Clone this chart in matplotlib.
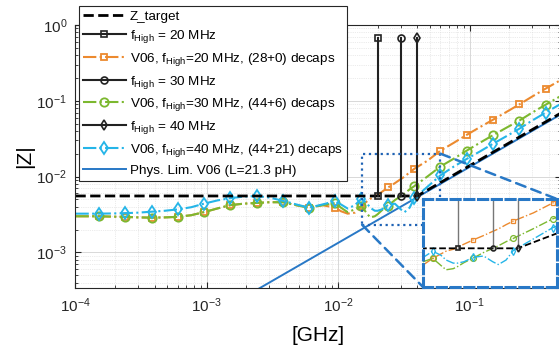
import matplotlib.pyplot as plt
import numpy as np
from matplotlib.patches import ConnectionPatch

plt.rcParams['font.family'] = ['Liberation Sans', 'DejaVu Sans']
plt.rcParams['mathtext.fontset'] = 'custom'
plt.rcParams['mathtext.rm'] = 'Liberation Sans'
plt.rcParams['mathtext.it'] = 'Liberation Sans:italic'
plt.rcParams['mathtext.bf'] = 'Liberation Sans:bold'

# frequency grid of the impedance curves (MHz), markers every 0.2 decade
freq_mhz = [0.1, 0.15, 0.19, 0.24, 0.3, 0.38, 0.48, 0.6, 0.76, 0.95,
            1.2, 1.5, 1.9, 2.4, 3.0, 3.8, 4.8, 6.0, 7.6, 9.5,
            10.5, 11.8, 13.4, 15, 16.5, 17.5, 19, 20, 21.5, 24,
            27, 30, 32, 35, 38, 48, 60, 76, 95, 120,
            150, 190, 240, 300, 380, 500]
marker_mhz = [0.15, 0.24, 0.38, 0.6, 0.95, 1.5, 2.4, 3.8, 6.0, 9.5,
              15, 24, 38, 60, 95, 150, 240, 380]

# |Z| in mOhm
z_20 = [3.0, 3.0, 2.97, 2.95, 2.9, 2.88, 2.9, 2.95, 3.1, 3.4,
        3.8, 4.2, 4.4, 4.5, 4.6, 4.6, 4.2, 3.9, 4.2, 3.9,
        3.5, 3.25, 3.35, 4.1, 4.7, 5.1, 5.4, 5.75, 6.3, 7.2,
        8.2, 9.3, 10.0, 11.4, 12.7, 16.3, 22, 28, 35.5, 45,
        56, 71, 90, 114, 145, 190]
z_30 = [3.0, 3.0, 2.97, 2.95, 2.9, 2.88, 2.9, 2.95, 3.1, 3.4,
        3.8, 4.2, 4.4, 4.5, 4.6, 4.6, 4.2, 3.9, 4.2, 4.5,
        3.9, 3.4, 3.7, 4.1, 3.3, 2.9, 3.0, 3.2, 3.6, 4.15,
        4.9, 5.55, 6.0, 6.8, 7.5, 10.1, 13.6, 17.3, 22, 28,
        35, 44, 55, 70, 89, 117]
z_40 = [3.25, 3.25, 3.27, 3.3, 3.35, 3.45, 3.55, 3.7, 3.95, 4.4,
        4.85, 5.2, 5.45, 5.55, 5.3, 4.8, 4.3, 3.9, 4.3, 4.75,
        4.3, 3.8, 4.2, 5.1, 4.5, 3.9, 3.55, 3.55, 3.7, 4.25,
        4.4, 3.7, 3.4, 3.9, 5.2, 7.4, 10.4, 13.6, 17.1, 21.5,
        27, 34, 43, 55, 70, 92]

ztarget_f = [1e-4, 0.04, 0.5]          # GHz
ztarget_z = [5.56e-3, 5.56e-3, 6.95e-2]
fhigh_ghz = [0.02, 0.03, 0.04]
fhigh_top = 0.68
fhigh_marks = ['s', 'o', 'd']
physlim_f = [1e-3, 0.5]
physlim_z = [1.34e-4, 6.69e-2]

zoom_f = (0.0152, 0.060)
zoom_z = (2.32e-3, 0.0201)
inset_f = (0.0134, 0.063)
inset_z = (1.72e-3, 0.0248)

c_orange = '#EC8A2F'
c_green = '#7CB82F'
c_cyan = '#25B5E8'
c_blue = '#2878C6'

f_ghz = np.array(freq_mhz) / 1000
is_mark = np.isin(freq_mhz, marker_mhz)
series = [
    (z_20, c_orange, 's', 4.5, 'V06, f$_{\\mathrm{High}}$=20 MHz, (28+0) decaps'),
    (z_30, c_green, 'o', 6, 'V06, f$_{\\mathrm{High}}$=30 MHz, (44+6) decaps'),
    (z_40, c_cyan, 'd', 6, 'V06, f$_{\\mathrm{High}}$=40 MHz, (44+21) decaps'),
]


def draw(ax, small=False):
    lw = 1.0 if small else 1.5
    ms_scale = 0.7 if small else 1.0
    h = {}
    if not small:
        h['phys'], = ax.plot(physlim_f, physlim_z, color=c_blue, lw=1.4,
                             label='Phys. Lim. V06 (L=21.3 pH)')
    for (z, c, m, ms, lab) in series:
        h[lab], = ax.plot(f_ghz, np.array(z) * 1e-3, color=c, ls='-.', lw=lw,
                          marker=m, ms=ms * ms_scale, mfc='none', mew=1.3 * ms_scale,
                          markevery=list(np.where(is_mark)[0]), label=lab)
    h['zt'], = ax.plot(ztarget_f, ztarget_z, color='k', ls='--', lw=2 if not small else 1.3,
                       label='Z_target')
    for f, m in zip(fhigh_ghz, fhigh_marks):
        h[f], = ax.plot([f, f], [ztarget_z[0], fhigh_top], color='#777777' if small else '#222222',
                        lw=lw, marker=m, ms=5 * ms_scale, mfc='none', mew=1.2,
                        mec='#222222', label='f$_{\\mathrm{High}}$ = %d MHz' % round(f * 1000))
    return h


fig = plt.figure(figsize=(5.59, 3.46), dpi=100)
ax = fig.add_axes([0.135, 0.1685, 0.8692, 0.7592])
h = draw(ax)
ax.set_xscale('log')
ax.set_yscale('log')
ax.set_xlim(1e-4, 0.5)
ax.set_ylim(3.43e-4, 0.97)
ax.set_xticks([1e-4, 1e-3, 1e-2, 1e-1])
ax.set_yticks([1e-3, 1e-2, 1e-1, 1])
ax.grid(which='major', color='#d8d8d8', lw=0.7)
ax.grid(which='minor', color='#d8d8d8', lw=0.5, ls=':')
ax.tick_params(which='both', direction='in', top=True, right=True, colors='#262626',
               labelsize=11)
ax.tick_params(which='major', length=4, pad=6)
ax.tick_params(which='minor', length=2)
for s in ax.spines.values():
    s.set_color('#262626')
    s.set_linewidth(0.8)
ax.set_xlabel('[GHz]', fontsize=15, labelpad=8)
ax.set_ylabel('|Z|', fontsize=15, labelpad=2)

# zoom box
ax.plot([zoom_f[0], zoom_f[1], zoom_f[1], zoom_f[0], zoom_f[0]],
        [zoom_z[0], zoom_z[0], zoom_z[1], zoom_z[1], zoom_z[0]],
        color='#1f63b5', ls=':', lw=1.6)

handles = [h['zt'], h[0.02], h[series[0][4]], h[0.03], h[series[1][4]],
           h[0.04], h[series[2][4]], h['phys']]
leg = ax.legend(handles=handles, loc='upper left', bbox_to_anchor=(0.007, 1.072),
                borderaxespad=0, fontsize=9.7, handlelength=3.2, labelspacing=0.42,
                fancybox=False, framealpha=1, edgecolor='#262626', borderpad=0.3,
                handletextpad=0.3)
leg.get_frame().set_linewidth(0.8)
leg.set_zorder(10)

# inset
ins = fig.add_axes([0.7567, 0.1705, 0.2397, 0.2543])
ins.set_zorder(5)
draw(ins, small=True)
ins.set_xscale('log')
ins.set_yscale('log')
ins.set_xlim(*inset_f)
ins.set_ylim(*inset_z)
ins.set_xticks([])
ins.set_yticks([])
ins.minorticks_off()
ins.tick_params(which='both', length=0)
ins.grid(which='major', color='#e6e6e6', lw=0.5)
for s in ins.spines.values():
    s.set_color(c_blue)
    s.set_linewidth(2.2)
    s.set_linestyle((0, (3, 1.5)))

for xyA, xyB in [((zoom_f[1], zoom_z[1]), (1, 1)), ((zoom_f[0], zoom_z[0]), (0, 0))]:
    con = ConnectionPatch(xyA=xyA, coordsA=ax.transData, xyB=xyB, coordsB=ins.transAxes,
                          color=c_blue, lw=1.8, ls=(0, (4, 2.5)))
    con.set_zorder(1)
    fig.add_artist(con)

fig.savefig('out.png', dpi=100)
